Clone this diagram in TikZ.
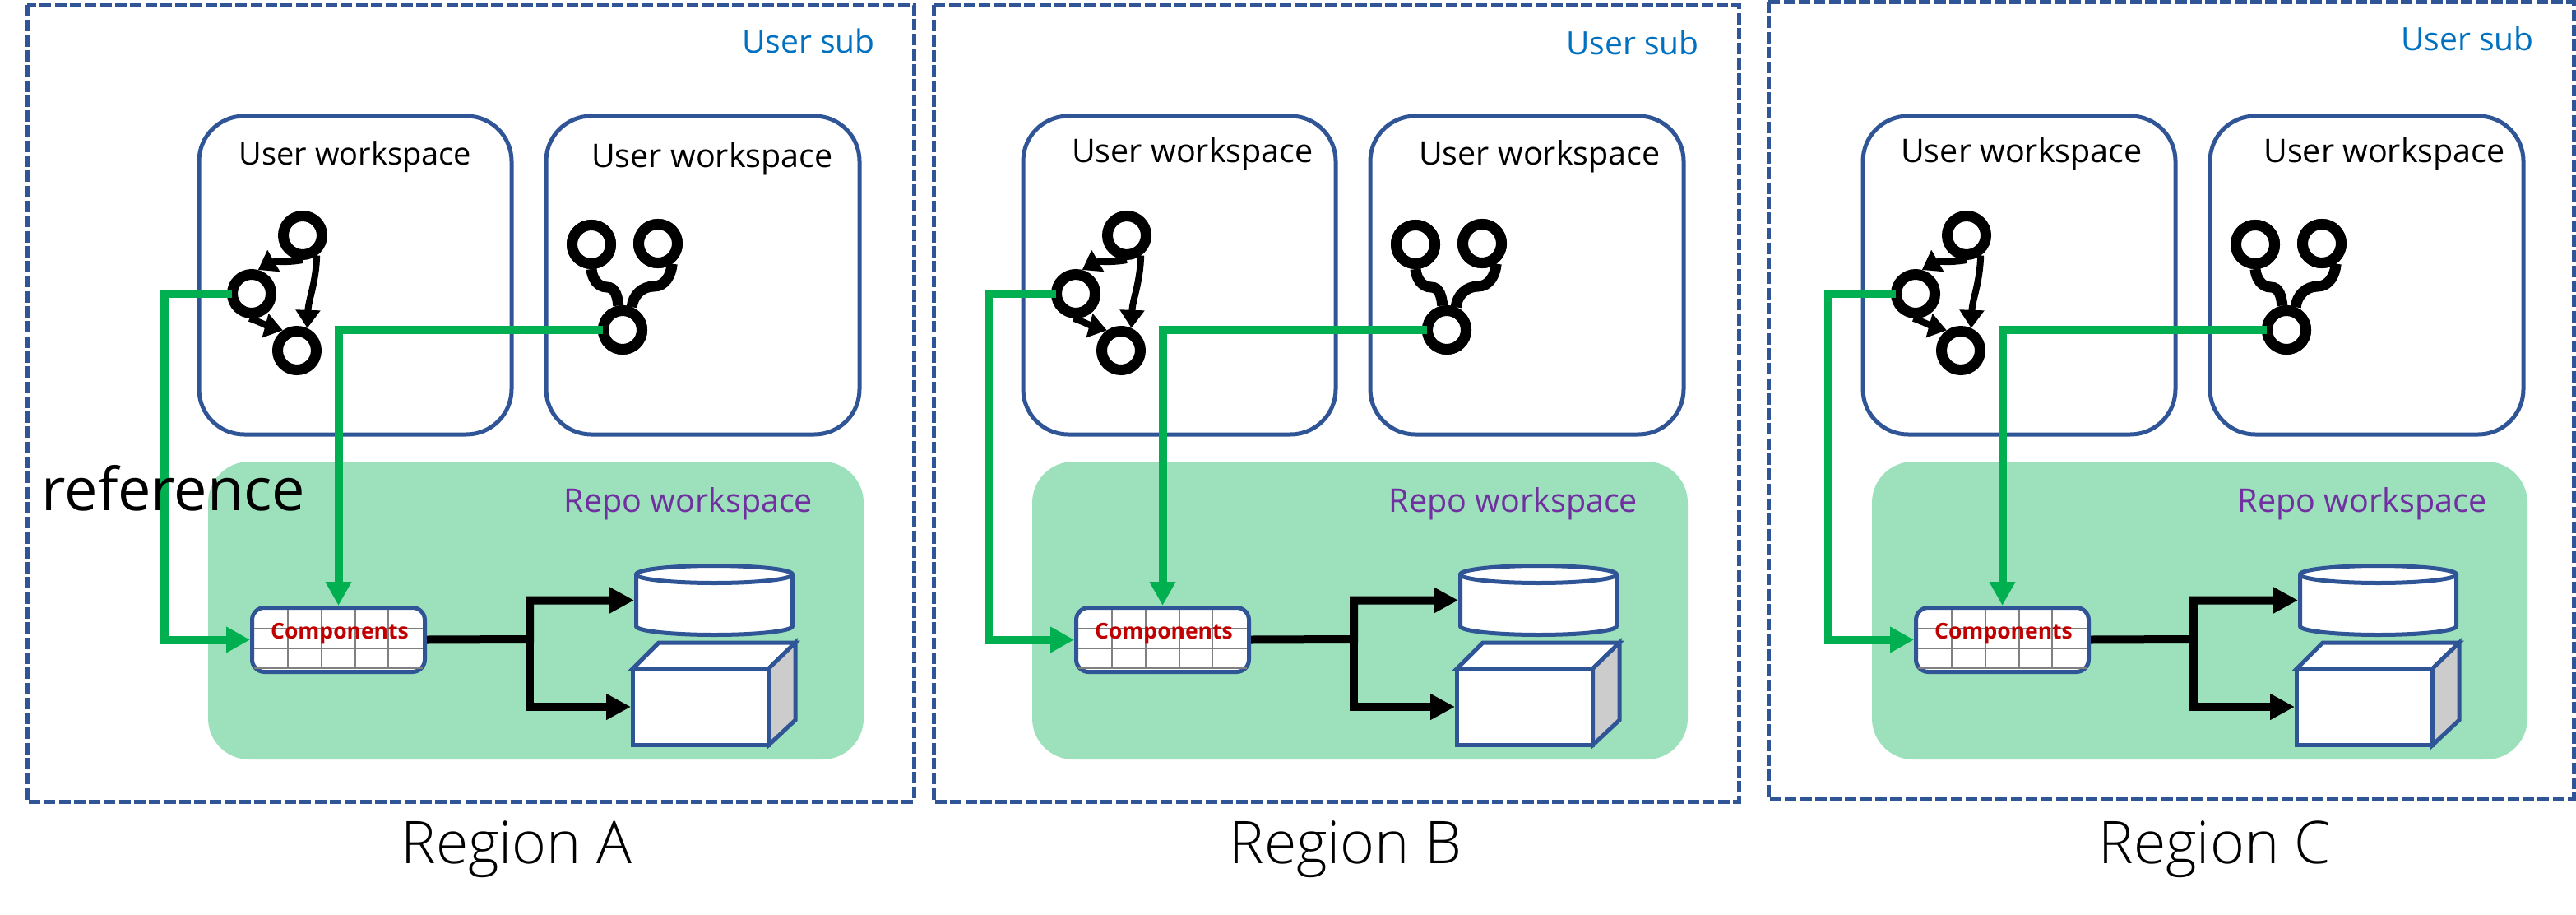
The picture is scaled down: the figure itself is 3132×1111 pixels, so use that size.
\documentclass[tikz,border=0pt]{standalone}
\usepackage{fontspec}
\setmainfont{Open Sans}
\newfontfamily\lightfont{Open Sans Light}
\usetikzlibrary{arrows.meta}
\definecolor{boxblue}{HTML}{2F5597}
\definecolor{linkgreen}{HTML}{00B050}
\definecolor{repofill}{HTML}{9DE1BC}
\definecolor{subblue}{HTML}{0070C0}
\definecolor{repopurple}{HTML}{7030A0}
\definecolor{compred}{HTML}{C00000}
\newcommand{\sizedfont}[1]{\fontsize{#1}{#1}\selectfont}
\tikzset{
  subbox/.style={draw=boxblue,line width=5pt,dash pattern=on 14pt off 4.3pt},
  wsbox/.style={draw=boxblue,line width=5pt,rounded corners=55pt},
  repobox/.style={fill=repofill,rounded corners=50pt},
  txt/.style={anchor=base,inner sep=0pt},
  gitnode/.style={circle,draw=black,fill=white,line width=13pt,minimum size=47pt,inner sep=0pt},
  gitarrow/.style={draw=black,line width=8pt,-{Triangle[length=22pt,width=29pt]}},
  gitline/.style={draw=black,line width=13pt},
  greenlink/.style={draw=linkgreen,line width=10pt,-{Triangle[length=29pt,width=30pt]}},
  blacklink/.style={draw=black,line width=10pt,-{Triangle[length=30pt,width=30pt]}},
  storebox/.style={draw=boxblue,fill=white,line width=5pt}
}
\begin{document}
\begin{tikzpicture}[x=1pt,y=-1pt]
  \useasboundingbox (0,0) rectangle (3132,1111);

  \foreach \nm/\dx/\oa/\ob/\oc/\od/\ux/\uy/\ta/\tya/\tb/\tyb/\fa/\rp/\rx/\rt in {
      A/0/33/1111/6/974/983/64/432/200/866/203/38/837/628/Region A,
      B/1002/1135/2114/6/974/1985/66/1450/197/1872/200/39.5/1840/1636/Region B,
      C/2023/2150/3129/2/970/3000/61/2458/197/2899/197/39.5/2872/2693/Region C}{
    \draw[subbox] (\oa,\oc) rectangle (\ob,\od);

    \begin{scope}[shift={(\dx,0)},name prefix=\nm-]
      \draw[wsbox] (242,141) rectangle (622,528);
      \draw[wsbox] (664,141) rectangle (1045,528);
      \fill[repobox] (253,561) rectangle (1050,923);

      % left git icon
      \node[gitnode] (nT) at (368,286) {};
      \node[gitnode] (nL) at (306,357) {};
      \node[gitnode] (nD) at (361,426) {};
      \draw[gitarrow] (nT.270) to[out=190,in=30] (nL.75);
      \draw[gitarrow] (nT.305) to[out=-92,in=88] (nD.65);
      \draw[gitarrow] (nL.265) to[out=-20,in=165] (nD.125);

      % right git icon
      \coordinate (nFl) at (738,349);
      \coordinate (nFr) at (795,348);
      \node[gitnode] (nTl) at (719,297) {};
      \node[gitnode] (nTr) at (800,296) {};
      \node[gitnode] (nB) at (757,401) {};
      \draw[gitline] (nTl.south) to[out=-85,in=180] (nFl) to[out=0,in=95] (nB.100);
      \draw[gitline] (nTr.-55) to[out=-95,in=0] (nFr) to[out=180,in=85] (nB.68);
      \node[gitnode] at (nTl) {};
      \node[gitnode] at (nTr) {};
      \node[gitnode] at (nB) {};

      % components table
      \node[storebox,rounded corners=15pt,minimum width=210pt,minimum height=78pt,inner sep=0pt] (nComp) at (411.5,777.5) {};
      \foreach \gx in {350,391,432,472}
        \draw[gray,line width=2pt] (\gx,741) -- (\gx,812);
      \foreach \gy in {764,788,812}
        \draw[gray,line width=2pt] (309,\gy) -- (514,\gy);
      \node[txt,text=compred,font=\bfseries\sizedfont{26.5}] (nCompTxt) at (413,776) {Components};

      % data stores
      \node[minimum width=195pt,minimum height=89pt,inner sep=0pt,outer sep=0pt] (nDb) at (868.5,729.5) {};
      \draw[storebox] (773.5,698) -- (773.5,761) arc[x radius=95pt,y radius=10.5pt,start angle=180,end angle=360] -- (963.5,698);
      \draw[storebox] (868.5,698) ellipse[x radius=95pt,y radius=10.5pt];
      \node[storebox,minimum width=165pt,minimum height=93pt,inner sep=0pt] (nBox) at (852,859) {};
      \draw[storebox] (nBox.north west) ++(2.5,2.5) -- (801,781) -- (967,781) -- (934.5,812.5) -- cycle;
      \draw[storebox,fill=black!20] (934.5,812.5) -- (967,781) -- (967,875) -- (934.5,905.5) -- cycle;

      % links
      \coordinate (nJn) at (644,777);
      \coordinate (nGa) at (200,600);
      \draw[blacklink] (nComp.east) -- (nJn) |- (nDb.west);
      \draw[blacklink] (nJn) |- (nBox.west);
      \draw[greenlink,shorten <=-6pt] (nL.west) -| (nGa) |- (nComp.west);
      \draw[greenlink,shorten <=-6pt] (nB.west) -| (nComp.north);
    \end{scope}

    \node[txt,text=subblue,font=\sizedfont{39}] (sub\nm) at (\ux,\uy) {User sub};
    \node[txt,font=\sizedfont{\fa}] (wsa\nm) at (\ta,\tya) {User workspace};
    \node[txt,font=\sizedfont{39.5}] (wsb\nm) at (\tb,\tyb) {User workspace};
    \node[txt,text=repopurple,font=\sizedfont{39.5}] (repo\nm) at (\rp,622) {Repo workspace};
    \node[txt,font=\lightfont\sizedfont{71.5}] (lab\nm) at (\rx,1049) {\rt};
  }
  \node[txt,font=\sizedfont{72}] (refTxt) at (211,620) {reference};
\end{tikzpicture}
\end{document}
